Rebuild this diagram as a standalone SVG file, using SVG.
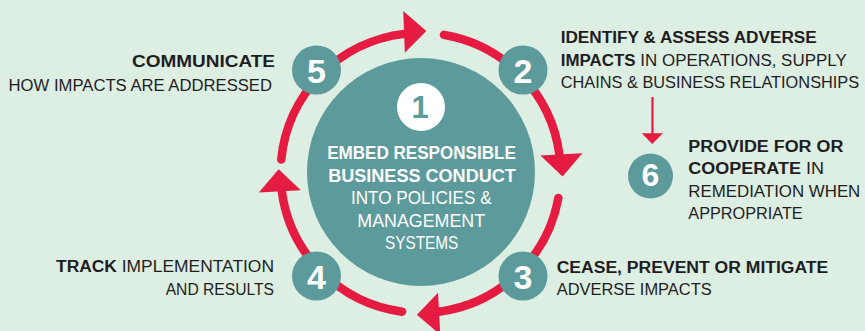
<svg xmlns="http://www.w3.org/2000/svg" width="865" height="331" viewBox="0 0 865 331">
  <style>
    .ring { fill: none; stroke: #e61b42; stroke-width: 8.5; stroke-linecap: round; }
    .head { fill: #e61b42; }
    .badge { fill: #5c9a9c; }
    .num { font-family: "Liberation Sans", Arial, sans-serif; font-weight: 700; fill: #ffffff; text-anchor: middle; }
    .lbl { font-family: "Liberation Sans", Arial, sans-serif; font-size: 16.8px; fill: #1f1d1e; }
    .ctr { font-family: "Liberation Sans", Arial, sans-serif; font-size: 17.5px; fill: #ffffff; text-anchor: middle; }
    .b { font-weight: 700; }
  </style>

  <rect width="865" height="331" fill="#ddeee3"/>

  <!-- cycle ring: four arcs, each ending in an arrowhead -->
  <g id="connectors">
    <path class="ring" d="M281.25,159.48 A140,140 0 0 1 404.27,33.86"/>
    <path class="ring" d="M443.95,34.86 A140,140 0 0 1 559.40,154.63"/>
    <path class="ring" d="M558.34,197.93 A140,140 0 0 1 438.87,311.70"/>
    <path class="ring" d="M402.08,311.67 A140,140 0 0 1 281.80,191.17"/>
    <polygon class="head" points="426.30,31.01 404.84,52.85 403.22,10.89"/>
    <polygon class="head" points="562.55,176.62 540.42,155.46 582.36,153.28"/>
    <polygon class="head" points="416.88,314.85 438.05,292.72 440.23,334.66"/>
    <polygon class="head" points="278.65,169.18 300.79,190.34 258.85,192.54"/>
    <!-- step 2 branches down to step 6 -->
    <line x1="652.5" y1="97" x2="652.5" y2="135" stroke="#e61b42" stroke-width="2.2"/>
    <polygon class="head" points="641.7,133.3 662.9,133.3 652.3,144"/>
  </g>

  <g id="node-1">
    <circle class="badge" cx="421" cy="172" r="114"/>
    <circle cx="421" cy="107" r="24" fill="#ffffff"/>
    <text x="420" y="117.5" font-family="Liberation Sans, Arial, sans-serif" font-weight="700" font-size="31" fill="#5c9a9c" text-anchor="middle">1</text>
    <text class="ctr b" x="421.5" y="159.3" textLength="188.7" lengthAdjust="spacingAndGlyphs">EMBED RESPONSIBLE</text>
    <text class="ctr b" x="422" y="181.8" textLength="187.7" lengthAdjust="spacingAndGlyphs">BUSINESS CONDUCT</text>
    <text class="ctr" x="421.3" y="204.3" textLength="140.7" lengthAdjust="spacingAndGlyphs">INTO POLICIES &amp;</text>
    <text class="ctr" x="421.2" y="226.8" textLength="127.7" lengthAdjust="spacingAndGlyphs">MANAGEMENT</text>
    <text class="ctr" x="421.7" y="249.3" textLength="73.3" lengthAdjust="spacingAndGlyphs">SYSTEMS</text>
  </g>

  <g id="node-2">
    <circle class="badge" cx="523" cy="70" r="24.5"/>
    <text class="num" x="523" y="82.5" font-size="34">2</text>
    <text class="lbl" x="560.7" y="43.3" textLength="256" lengthAdjust="spacingAndGlyphs"><tspan class="b">IDENTIFY &amp; ASSESS ADVERSE</tspan></text>
    <text class="lbl" x="560.7" y="66" textLength="286" lengthAdjust="spacingAndGlyphs"><tspan class="b">IMPACTS</tspan> IN OPERATIONS, SUPPLY</text>
    <text class="lbl" x="560.7" y="88.3" style="font-size:16.2px" textLength="298.5" lengthAdjust="spacingAndGlyphs">CHAINS &amp; BUSINESS RELATIONSHIPS</text>
  </g>

  <g id="node-3">
    <circle class="badge" cx="523" cy="276" r="24.5"/>
    <text class="num" x="523" y="288.5" font-size="34">3</text>
    <text class="lbl" x="556.7" y="273.3" textLength="271.6" lengthAdjust="spacingAndGlyphs"><tspan class="b">CEASE, PREVENT OR MITIGATE</tspan></text>
    <text class="lbl" x="556.7" y="295" textLength="155" lengthAdjust="spacingAndGlyphs">ADVERSE IMPACTS</text>
  </g>

  <g id="node-4">
    <circle class="badge" cx="316.5" cy="276" r="24.5"/>
    <text class="num" x="316.5" y="288.5" font-size="34">4</text>
    <text class="lbl" x="274" y="272.3" text-anchor="end" textLength="218" lengthAdjust="spacingAndGlyphs"><tspan class="b">TRACK</tspan> IMPLEMENTATION</text>
    <text class="lbl" x="274" y="295" text-anchor="end" textLength="108.3" lengthAdjust="spacingAndGlyphs">AND RESULTS</text>
  </g>

  <g id="node-5">
    <circle class="badge" cx="316.5" cy="70" r="24.5"/>
    <text class="num" x="316.5" y="82.5" font-size="34">5</text>
    <text class="lbl" x="275" y="66.7" text-anchor="end" textLength="143" lengthAdjust="spacingAndGlyphs"><tspan class="b">COMMUNICATE</tspan></text>
    <text class="lbl" x="272" y="90.7" text-anchor="end" textLength="263.4" lengthAdjust="spacingAndGlyphs">HOW IMPACTS ARE ADDRESSED</text>
  </g>

  <g id="node-6">
    <circle class="badge" cx="650.5" cy="176" r="22.5"/>
    <text class="num" x="650.5" y="185.5" font-size="32">6</text>
    <text class="lbl" x="688.3" y="151.7" textLength="155" lengthAdjust="spacingAndGlyphs"><tspan class="b">PROVIDE FOR OR</tspan></text>
    <text class="lbl" x="688.3" y="174.1" textLength="135.7" lengthAdjust="spacingAndGlyphs"><tspan class="b">COOPERATE</tspan> IN</text>
    <text class="lbl" x="688.3" y="196.5" textLength="172" lengthAdjust="spacingAndGlyphs">REMEDIATION WHEN</text>
    <text class="lbl" x="688.3" y="218.9" textLength="114.4" lengthAdjust="spacingAndGlyphs">APPROPRIATE</text>
  </g>
</svg>
